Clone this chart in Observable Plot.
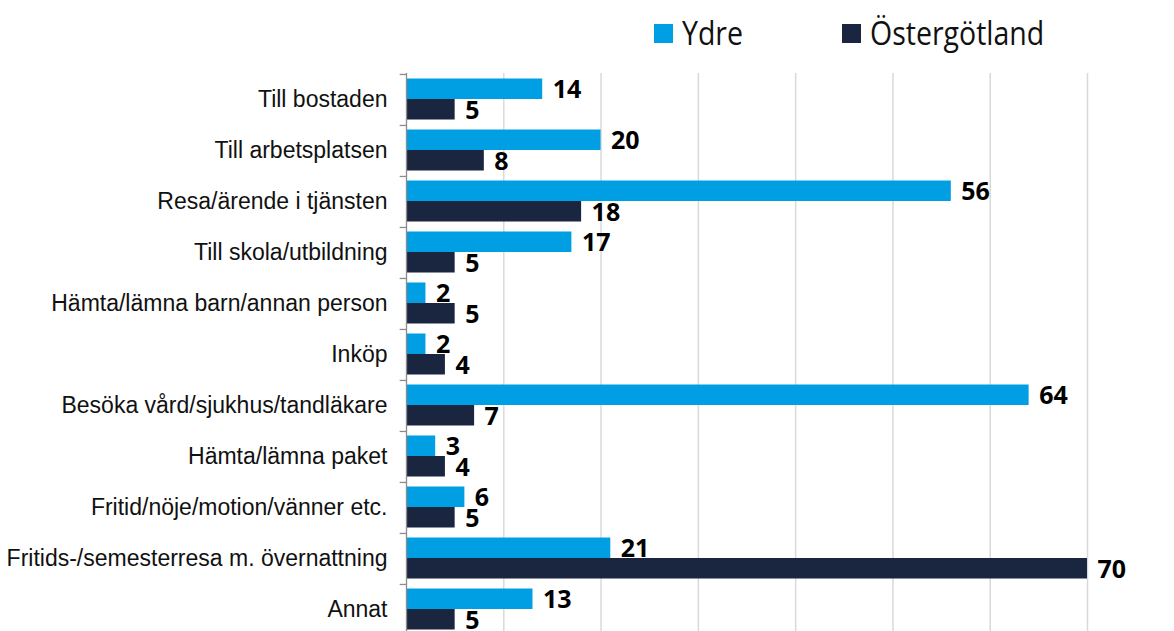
<!DOCTYPE html>
<html>
<head>
<meta charset="utf-8">
<script src="https://cdn.jsdelivr.net/npm/d3@7"></script>
<script src="https://cdn.jsdelivr.net/npm/@observablehq/plot@0.6"></script>
<style>
  html, body { margin: 0; padding: 0; background: #fff; width: 1174px; height: 631px; overflow: hidden; }
  #legend { position: relative; height: 73px; }
  .item { position: absolute; top: 13px; display: flex; align-items: center; font-family: "Open Sans", sans-serif; font-size: 28.5px; color: #111; line-height: 40px; }
  .item .txt { display: inline-block; transform: scaleY(1.18); transform-origin: 50% 60%; }
  .sw { width: 19px; height: 19px; margin-right: 9px; }
</style>
</head>
<body>
<div id="legend"></div>
<div id="chart"></div>
<script>
const categories = [
  "Till bostaden",
  "Till arbetsplatsen",
  "Resa/ärende i tjänsten",
  "Till skola/utbildning",
  "Hämta/lämna barn/annan person",
  "Inköp",
  "Besöka vård/sjukhus/tandläkare",
  "Hämta/lämna paket",
  "Fritid/nöje/motion/vänner etc.",
  "Fritids-/semesterresa m. övernattning",
  "Annat"
];
const ydre = [14, 20, 56, 17, 2, 2, 64, 3, 6, 21, 13];
const ostergotland = [5, 8, 18, 5, 5, 4, 7, 4, 5, 70, 5];
const seriesNames = ["Ydre", "Östergötland"];
const seriesColors = ["#009fe3", "#1a2540"];
const gridTicks = [10, 20, 30, 40, 50, 60, 70];

const data = categories.map((c, i) => ({category: c, ydre: ydre[i], ost: ostergotland[i]}));

// legend
const legend = document.getElementById("legend");
const legendLeft = [654, 842];
seriesNames.forEach((name, i) => {
  const item = document.createElement("div");
  item.className = "item";
  item.style.left = legendLeft[i] + "px";
  const sw = document.createElement("span");
  sw.className = "sw";
  sw.style.background = seriesColors[i];
  const t = document.createElement("span");
  t.className = "txt";
  t.textContent = name;
  item.appendChild(sw);
  item.appendChild(t);
  legend.appendChild(item);
});

const H = 562;
const band = H / categories.length;
const labelFont = {fontFamily: "Open Sans, sans-serif", fontWeight: "bold", fontSize: 25, fill: "#000", textAnchor: "start", dx: 10};

const chart = Plot.plot({
  width: 1174,
  height: H,
  marginLeft: 406,
  marginRight: 87,
  marginTop: 0,
  marginBottom: 0,
  style: {fontFamily: "Liberation Sans, Arial, sans-serif", fontSize: "23px", color: "#111", background: "#fff"},
  x: {domain: [0, 70], axis: null},
  y: {domain: categories, padding: 0, tickSize: 0, tickPadding: 19, label: null},
  marks: [
    Plot.ruleX(gridTicks, {stroke: "#d9d9d9", strokeWidth: 1.5}),
    Plot.barX(data, {x: "ydre", y: "category", fill: seriesColors[0], insetTop: 4.5, insetBottom: 26}),
    Plot.barX(data, {x: "ost", y: "category", fill: seriesColors[1], insetTop: 25, insetBottom: 5.5}),
    Plot.ruleX([0], {stroke: "#8c8c8c", strokeWidth: 1.3}),
    Plot.ruleY(categories, {y: d => d, x1: -0.65, x2: 0, dy: -band / 2, stroke: "#8c8c8c", strokeWidth: 1.3}),
    Plot.text(data, {x: "ydre", y: "category", text: "ydre", dy: -10, ...labelFont}),
    Plot.text(data, {x: "ost", y: "category", text: "ost", dy: 11, ...labelFont})
  ]
});
document.getElementById("chart").appendChild(chart);
</script>
</body>
</html>
